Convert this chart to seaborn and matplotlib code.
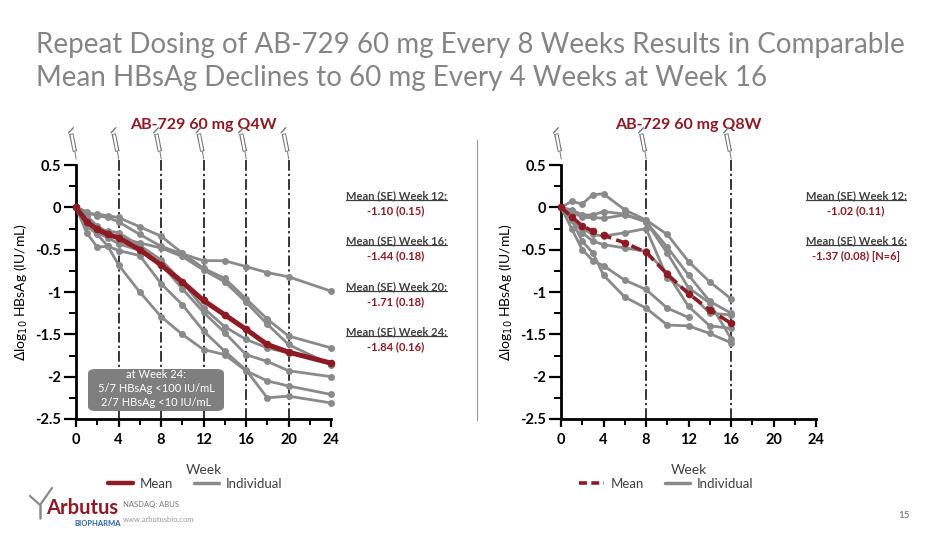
import numpy as np
import pandas as pd
import seaborn as sns
import matplotlib.pyplot as plt
from matplotlib.lines import Line2D
from matplotlib.patches import FancyBboxPatch

# ---- data ----
weeks_q4w = [0, 1, 2, 3, 4, 6, 8, 10, 12, 14, 16, 18, 20, 24]
q4w_p1 = [0, -0.05, -0.10, -0.12, -0.17, -0.32, -0.46, -0.55, -0.63, -0.63, -0.70, -0.77, -0.82, -0.99]
q4w_p2 = [0, -0.08, -0.08, -0.10, -0.12, -0.23, -0.34, -0.54, -0.72, -0.84, -1.08, -1.32, -1.52, -1.66]
q4w_p3 = [0, -0.10, -0.22, -0.30, -0.36, -0.42, -0.48, -0.58, -0.74, -0.88, -1.12, -1.38, -1.62, -1.86]
q4w_p4 = [0, -0.18, -0.25, -0.28, -0.30, -0.45, -0.62, -0.88, -1.19, -1.41, -1.56, -1.66, -1.72, -1.85]
q4w_p5 = [0, -0.20, -0.30, -0.36, -0.43, -0.51, -0.67, -0.96, -1.24, -1.48, -1.74, -1.82, -1.93, -2.00]
q4w_p6 = [0, -0.30, -0.47, -0.46, -0.68, -1.00, -1.29, -1.50, -1.68, -1.74, -1.93, -2.05, -2.11, -2.21]
q4w_p7 = [0, -0.22, -0.32, -0.46, -0.51, -0.57, -0.90, -1.15, -1.46, -1.70, -1.92, -2.25, -2.23, -2.31]
q4w_mean = [0, -0.17, -0.26, -0.32, -0.36, -0.50, -0.68, -0.88, -1.10, -1.27, -1.44, -1.62, -1.71, -1.84]

weeks_q8w = [0, 1, 2, 3, 4, 6, 8, 10, 12, 14, 16]
q8w_p1 = [0, 0.07, 0.04, 0.15, 0.16, -0.03, -0.15, -0.32, -0.64, -0.88, -1.08]
q8w_p2 = [0, -0.03, -0.09, -0.09, -0.05, -0.08, -0.17, -0.47, -0.80, -1.11, -1.25]
q8w_p3 = [0, -0.05, -0.12, -0.12, -0.13, -0.09, -0.17, -0.54, -0.95, -1.13, -1.55]
q8w_p4 = [0, -0.10, -0.25, -0.32, -0.34, -0.30, -0.25, -0.83, -1.00, -1.25, -1.27]
q8w_p5 = [0, -0.12, -0.30, -0.40, -0.44, -0.48, -0.52, -0.78, -1.17, -1.40, -1.43]
q8w_p6 = [0, -0.25, -0.50, -0.63, -0.69, -0.86, -0.97, -1.19, -1.30, np.nan, np.nan]
q8w_p7 = [0, -0.15, -0.40, -0.54, -0.80, -1.06, -1.19, -1.39, -1.40, -1.49, -1.60]
q8w_mean = [0, -0.11, -0.22, -0.28, -0.33, -0.42, -0.53, -0.79, -1.02, -1.21, -1.37]

q4w_notes = [("Mean (SE) Week 12:", "-1.10 (0.15)"),
             ("Mean (SE) Week 16:", "-1.44 (0.18)"),
             ("Mean (SE) Week 20:", "-1.71 (0.18)"),
             ("Mean (SE) Week 24:", "-1.84 (0.16)")]
q8w_notes = [("Mean (SE) Week 12:", "-1.02 (0.11)"),
             ("Mean (SE) Week 16:", "-1.37 (0.08) [N=6]")]

y_ticks = [0.5, 0, -0.5, -1, -1.5, -2, -2.5]
y_ticklabels = ["0.5", "0", "-0.5", "-1", "-1.5", "-2", "-2.5"]
x_ticks = [0, 4, 8, 12, 16, 20, 24]


def long_df(weeks, series):
    rows = []
    for i, vals in enumerate(series):
        for w, v in zip(weeks, vals):
            rows.append({"week": w, "val": v, "pid": i})
    return pd.DataFrame(rows).dropna()


sns.set_style("white")
plt.rcParams['font.family'] = ['Lato', 'DejaVu Sans']
plt.rcParams['axes.unicode_minus'] = False

RED = '#8e1b24'
GRAY = '#8a8a8a'
TXT = '#404040'

fig = plt.figure(figsize=(9.5, 5.34), dpi=100)
W, H = 950, 534


def fx(px):
    return px / W


def fy(py):
    return 1 - py / H


fig.text(fx(36), fy(45), "Repeat Dosing of AB-729 60 mg Every 8 Weeks Results in Comparable",
         fontsize=20, color='#858585', va='center', ha='left')
fig.text(fx(36), fy(78), "Mean HBsAg Declines to 60 mg Every 4 Weeks at Week 16",
         fontsize=20, color='#858585', va='center', ha='left')

ax1 = fig.add_axes([fx(76), fy(419), fx(255), 254 / H])
ax2 = fig.add_axes([fx(561), fy(419), fx(255), 254 / H])


def draw_panel(ax, weeks, indiv, mean, dose_weeks, title, dashed_mean):
    df = long_df(weeks, indiv)
    sns.lineplot(data=df, x="week", y="val", units="pid", estimator=None,
                 color=GRAY, lw=2.0, marker='o', markersize=5, markeredgewidth=0,
                 ax=ax, legend=False)
    mdf = pd.DataFrame({"week": weeks, "val": mean})
    sns.lineplot(data=mdf, x="week", y="val", color=RED, lw=3.6 if not dashed_mean else 2.6,
                 ls=(0, (3, 1.5)) if dashed_mean else '-',
                 marker='o', markersize=5.5, markeredgewidth=0, ax=ax, legend=False)
    for ln in ax.lines:
        ln.set_clip_on(False)
        ln.set_zorder(3)
    for w in dose_weeks:
        if w > 0:
            ax.plot([w, w], [-2.5, 0.58], color='black', lw=1.1,
                    ls=(0, (7, 2, 1.5, 2)), zorder=1, clip_on=False)
        # little syringe glyph above each dose (plunger up-left, needle down)
        ax.plot([w - 0.45, w - 0.1], [0.87, 0.66], color='#777777', lw=3.2,
                solid_capstyle='butt', clip_on=False, zorder=4)
        ax.plot([w - 0.42, w - 0.13], [0.86, 0.67], color='white', lw=1.6,
                solid_capstyle='butt', clip_on=False, zorder=5)
        ax.plot([w - 0.1, w + 0.02], [0.66, 0.57], color='#777777', lw=0.7,
                clip_on=False, zorder=4)
        ax.plot([w - 0.7, w - 0.25], [0.88, 0.94], color='#777777', lw=1.0,
                clip_on=False, zorder=4)
    ax.set_xlim(0, 24)
    ax.set_ylim(-2.5, 0.5)
    ax.set_xticks(x_ticks)
    ax.set_xticks(np.arange(0, 25, 2), minor=True)
    ax.set_yticks(y_ticks)
    ax.set_yticklabels(y_ticklabels)
    ax.set_yticks(np.arange(-2.5, 0.51, 0.25), minor=True)
    ax.tick_params(which='both', direction='out', color='black', labelsize=10.5)
    ax.tick_params(axis='y', which='major', length=9, width=1.6, pad=1.5, left=True)
    ax.tick_params(axis='y', which='minor', length=5, width=1.4, left=True)
    ax.tick_params(axis='x', which='major', length=6, width=1.6, pad=4, bottom=True)
    ax.tick_params(axis='x', which='minor', length=4, width=1.4, bottom=True)
    for lab in ax.get_xticklabels() + ax.get_yticklabels():
        lab.set_fontweight('bold')
        lab.set_color('black')
    for s in ['top', 'right']:
        ax.spines[s].set_visible(False)
    for s in ['left', 'bottom']:
        ax.spines[s].set_color('black')
        ax.spines[s].set_linewidth(2.0)
    ax.set_xlabel("Week", fontsize=10, color=TXT, labelpad=12)
    ax.set_ylabel(r"$\Delta$log$_{10}$ HBsAg (IU/mL)", fontsize=10, color='black', labelpad=4)
    ax.set_title(title, fontsize=11.5, fontweight='bold', color=RED, pad=26)
    ax.set_facecolor('none')


draw_panel(ax1, weeks_q4w, [q4w_p1, q4w_p2, q4w_p3, q4w_p4, q4w_p5, q4w_p6, q4w_p7],
           q4w_mean, [0, 4, 8, 12, 16, 20], "AB-729 60 mg Q4W", False)
draw_panel(ax2, weeks_q8w, [q8w_p1, q8w_p2, q8w_p3, q8w_p4, q8w_p5, q8w_p6, q8w_p7],
           q8w_mean, [0, 8, 16], "AB-729 60 mg Q8W", True)

# gray summary box
box = FancyBboxPatch((fx(88), fy(411)), fx(136), 42 / H,
                     boxstyle="round,pad=0,rounding_size=0.008",
                     transform=fig.transFigure, facecolor='#7f7f7f', edgecolor='none', zorder=6)
fig.patches.append(box)
for txt, py in [("at Week 24:", 375), ("5/7 HBsAg <100 IU/mL", 389), ("2/7 HBsAg <10 IU/mL", 403)]:
    fig.text(fx(156), fy(py), txt, color='white', fontsize=8, ha='center', va='center', zorder=7)

# separator between panels
fig.lines.append(Line2D([fx(477), fx(477)], [fy(140), fy(420)], transform=fig.transFigure,
                        color='#9a9a9a', lw=0.8))

# mean (SE) call-outs with underline
underline_jobs = []
for (head, val), py in zip(q4w_notes, [196, 241, 287, 332]):
    t = fig.text(fx(396), fy(py), head, fontsize=8, fontweight='bold', color=TXT,
                 ha='center', va='center')
    fig.text(fx(396), fy(py + 15), val, fontsize=8, fontweight='bold', color=RED,
             ha='center', va='center')
    underline_jobs.append(t)
for (head, val), py in zip(q8w_notes, [196, 241]):
    t = fig.text(fx(856), fy(py), head, fontsize=8, fontweight='bold', color=TXT,
                 ha='center', va='center')
    fig.text(fx(856), fy(py + 15), val, fontsize=8, fontweight='bold', color=RED,
             ha='center', va='center')
    underline_jobs.append(t)

fig.canvas.draw()
rend = fig.canvas.get_renderer()
for t in underline_jobs:
    bb = t.get_window_extent(renderer=rend).transformed(fig.transFigure.inverted())
    fig.lines.append(Line2D([bb.x0, bb.x1], [bb.y0 + 0.002, bb.y0 + 0.002],
                            transform=fig.transFigure, color=TXT, lw=0.9))

# legends
h_left = [Line2D([], [], color=RED, lw=3.2), Line2D([], [], color=GRAY, lw=2.5)]
h_right = [Line2D([], [], color=RED, lw=2.6, ls=(0, (2.2, 1.2))), Line2D([], [], color=GRAY, lw=2.5)]
for hs, cx in [(h_left, 195), (h_right, 666)]:
    leg = fig.legend(hs, ["Mean", "Individual"], loc='center', ncol=2, frameon=False,
                     bbox_to_anchor=(fx(cx), fy(484)), bbox_transform=fig.transFigure,
                     fontsize=9.5, handlelength=1.9, columnspacing=1.6, handletextpad=0.5)
    for tx in leg.get_texts():
        tx.set_color(TXT)

# company footer
fig.text(fx(46), fy(508), "Arbutus", fontsize=14.5, fontweight='bold', color=RED,
         ha='left', va='center')
fig.text(fx(74), fy(523), "BIOPHARMA", fontsize=5.5, fontweight='bold', color='#2a62a8',
         ha='left', va='center')
fig.text(fx(123), fy(505), "NASDAQ: ABUS", fontsize=5.5, color='#777777', ha='left', va='center')
fig.text(fx(123), fy(519), "www.arbutusbio.com", fontsize=5.5, color='#999999', ha='left', va='center')
fig.lines.append(Line2D([fx(30), fx(40), fx(52)], [fy(496), fy(505), fy(488)],
                        transform=fig.transFigure, color='#8a8a8a', lw=1.6))
fig.lines.append(Line2D([fx(40), fx(40)], [fy(505), fy(518)],
                        transform=fig.transFigure, color='#8a8a8a', lw=1.8))
fig.text(fx(910), fy(515), "15", fontsize=7, color='#666666', ha='right', va='center')

fig.savefig("out.png", dpi=100)
